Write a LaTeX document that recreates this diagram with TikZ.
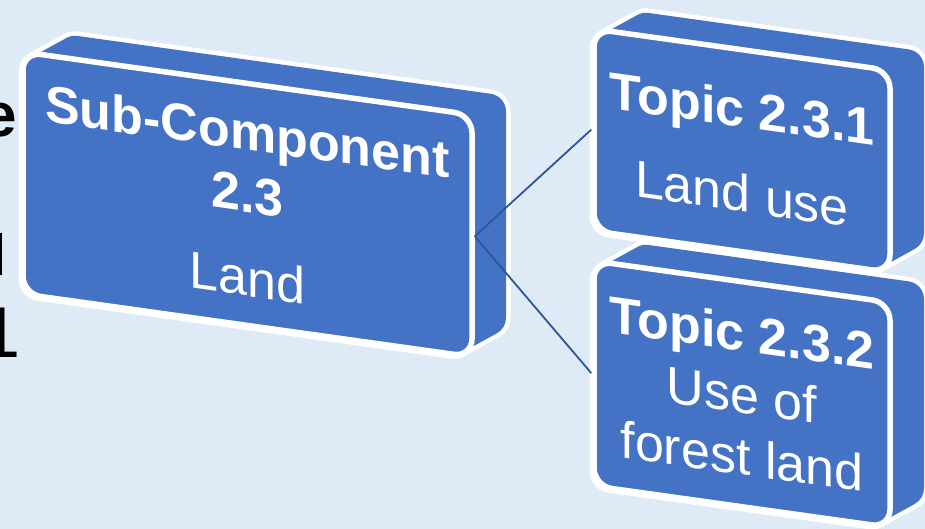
\documentclass[tikz,border=0pt]{standalone}
\usepackage{fontspec}
\setmainfont{Liberation Sans}
\definecolor{slidebg}{RGB}{222,234,246}
\definecolor{boxblue}{RGB}{68,114,196}
\definecolor{linkblue}{RGB}{47,85,151}
\tikzset{
  boxrim/.style={draw=white,line width=45pt,line join=round},
  boxside/.style={fill=boxblue,draw=boxblue,line width=36pt,line join=round},
  boxface/.style={rectangle,fill=boxblue,draw=white,line width=5.5pt,rounded corners=18pt,
    text=white,align=center,inner sep=0pt,font=\fontsize{52}{62}\selectfont},
  link/.style={draw=linkblue,line width=1.8pt},
  cut/.style={anchor=base east,inner sep=0pt,text=black}
}
% extruded back part of a box, #1 = width, #2 = height of the front face
% (corner centres, depth 34/23.5, the thick round stroke gives the rounding)
\newcommand{\sideShape}[2]{
  \foreach \sty in {boxrim,boxside}
    \draw[\sty] (18,-18) -- (52,5.5) -- ({#1+16},5.5) -- ({#1+16},{23.5-#2+18}) -- ({#1-18},{18-#2}) -- (18,{18-#2}) -- cycle;
}
\newcommand{\faceNode}{\node[boxface,transform shape]}

\begin{document}
\begin{tikzpicture}[x=1pt,y=1pt]

    \clip (0,0) rectangle (925,-529);
    \fill[slidebg] (0,0) rectangle (925,-529);

    % text cut off at the left border
    \node[cut,font=\fontsize{62}{70}\selectfont\bfseries] (txtE) at (17,-137) {e};
    \node[cut,font=\fontsize{58}{70}\selectfont] (txtL) at (7,-275) {l};
    \node[cut,font=\fontsize{72}{80}\selectfont] (txtOne) at (21,-357) {1};

    \begin{scope}[shift={(23,-52)},yslant=-0.14]
        \sideShape{449}{242}
        \faceNode[minimum width=449,minimum height=242] (sub) at (224.5,-121)
            {\textbf{Sub-Component}\\\textbf{2.3}\\[22pt]Land};
    \end{scope}

    \begin{scope}[shift={(594,-261)},yslant=-0.14]
        \sideShape{296}{225}
        \faceNode[minimum width=296,minimum height=225] (topicB) at (148,-112.5)
            {\textbf{Topic 2.3.2}\\Use of\\forest land};
    \end{scope}

    \begin{scope}[shift={(594,-29)},yslant=-0.14]
        \sideShape{296}{202}
        \faceNode[minimum width=296,minimum height=202] (topicA) at (148,-101)
            {\textbf{Topic 2.3.1}\\[23pt]Land use};
    \end{scope}

    \draw[link] (sub.east) -- (topicA.west);
    \draw[link] (sub.east) -- (topicB.west);

\end{tikzpicture}
\end{document}
